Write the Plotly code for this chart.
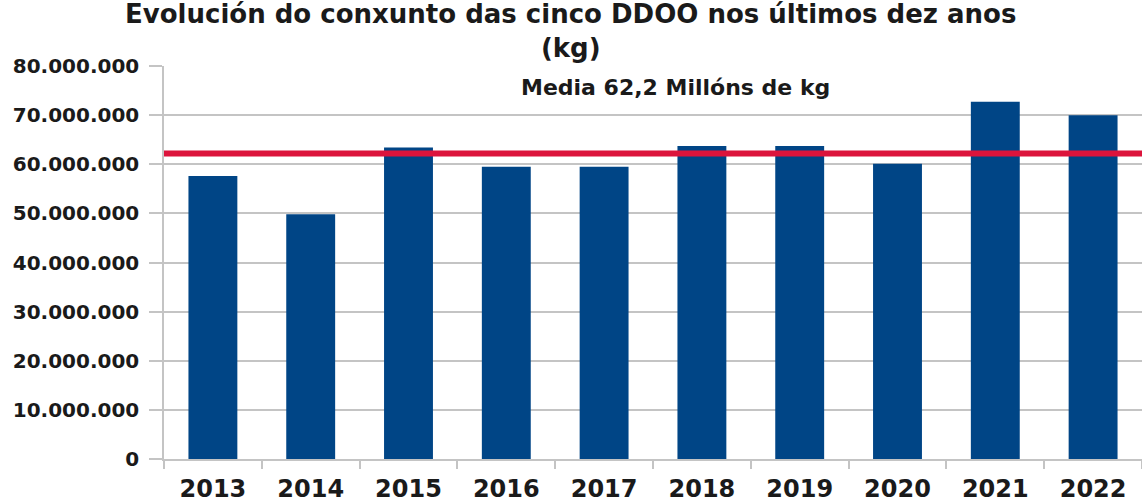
import plotly.graph_objects as go

years = ["2013", "2014", "2015", "2016", "2017", "2018", "2019", "2020", "2021", "2022"]
values = [57600000, 49800000, 63400000, 59500000, 59500000, 63700000, 63700000, 60100000, 72700000, 70000000]
mean_value = 62200000
y_ticks = [0, 10000000, 20000000, 30000000, 40000000, 50000000, 60000000, 70000000, 80000000]
y_tick_labels = ["0", "10.000.000", "20.000.000", "30.000.000", "40.000.000",
                 "50.000.000", "60.000.000", "70.000.000", "80.000.000"]
title_text = "Evolución do conxunto das cinco DDOO nos últimos dez anos<br>(kg)"
mean_label = "Media 62,2 Millóns de kg"

FONT = "DejaVu Sans"
TXT = "#1a1a1a"
GRID = "#c4c4c4"

fig = go.Figure()
fig.add_trace(go.Bar(x=years, y=values, marker=dict(color="#004586", line=dict(width=0)),
                     hoverinfo="x+y"))

fig.add_shape(type="line", xref="paper", x0=0, x1=1, yref="y", y0=mean_value, y1=mean_value,
              line=dict(color="#dc143c", width=6))

fig.add_annotation(x=0.523, xref="paper", y=78600000, yref="y", yanchor="top",
                   text=mean_label, showarrow=False,
                   font=dict(family=FONT, size=22, color=TXT, weight="bold"))

fig.add_annotation(x=0.416, xref="paper", y=1.0, yref="paper", yanchor="bottom",
                   xanchor="center", yshift=1,
                   text=title_text, showarrow=False,
                   font=dict(family=FONT, size=26, color=TXT, weight="bold"))

fig.update_layout(
    width=1142, height=502,
    margin=dict(l=164, r=0, t=66, b=43),
    paper_bgcolor="white", plot_bgcolor="white",
    bargap=0.5,
    showlegend=False,
    xaxis=dict(type="category", showgrid=False, showline=True, linecolor=GRID, linewidth=1.5,
               ticks="outside", tickson="boundaries", ticklen=8, tickcolor=GRID, tickwidth=1.5,
               ticklabelstandoff=7,
               tickfont=dict(family=FONT, size=24, color=TXT, weight="bold")),
    yaxis=dict(range=[0, 80000000], tickvals=y_ticks, ticktext=y_tick_labels,
               showgrid=True, gridcolor=GRID, gridwidth=1.5, zeroline=False,
               showline=True, linecolor=GRID, linewidth=1.5,
               ticks="outside", ticklen=13, tickcolor=GRID, tickwidth=1.5,
               ticklabelstandoff=6,
               tickfont=dict(family=FONT, size=20, color=TXT, weight="bold")),
)

fig.write_html("out.html", config={"displayModeBar": False},
               post_script="document.body.style.margin='0';document.body.style.overflow='hidden';")
